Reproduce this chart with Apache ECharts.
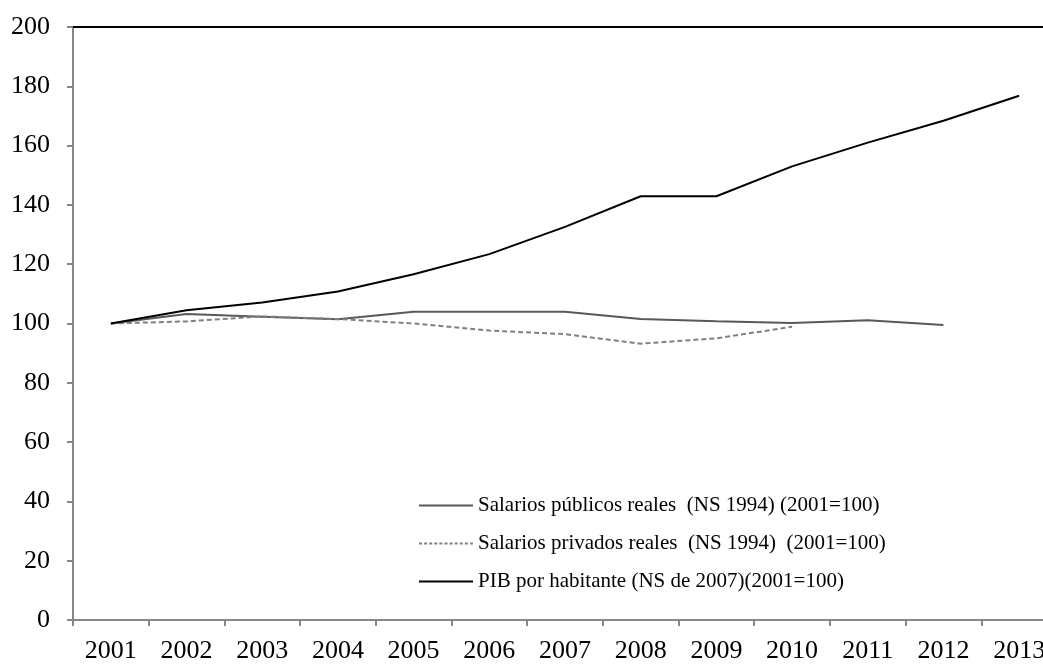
<!DOCTYPE html>
<html>
<head>
<meta charset="utf-8">
<script src="https://cdn.jsdelivr.net/npm/echarts@6/dist/echarts.min.js"></script>
<style>html,body{margin:0;padding:0;background:#fff;overflow:hidden;width:1043px;height:664px}#c{width:1057px;height:664px}</style>
</head>
<body>
<div id="c"></div>
<script>
var years = ['2001','2002','2003','2004','2005','2006','2007','2008','2009','2010','2011','2012','2013'];
var salPublicos = [100, 103.2, 102.3, 101.4, 104, 104, 104, 101.5, 100.8, 100.2, 101.1, 99.5, null];
var salPrivados = [100, 100.7, 102.4, 101.5, 100.0, 97.6, 96.4, 93.2, 95.0, 98.9, null, null, null];
var pib = [100, 104.5, 107.1, 110.8, 116.6, 123.4, 132.6, 142.9, 142.9, 153, 161, 168.4, 176.8];
var names = ['Salarios públicos reales  (NS 1994) (2001=100)', 'Salarios privados reales  (NS 1994)  (2001=100)', 'PIB por habitante (NS de 2007)(2001=100)'];

var FONT = 'Liberation Serif';
var solidIcon = 'path://M0,0L54,0L54,2L0,2Z';
var dashIcon = 'path://';
for (var i = 0; i < 54; i += 5) {
  var e = Math.min(i + 3, 54);
  dashIcon += 'M' + i + ',0L' + e + ',0L' + e + ',2L' + i + ',2Z';
}

var chart = echarts.init(document.getElementById('c'), null, {renderer: 'canvas'});
chart.setOption({
  animation: false,
  backgroundColor: '#fff',
  textStyle: {fontFamily: FONT},
  grid: {left: 73, top: 27, right: 0, bottom: 42, containLabel: false},
  legend: {
    orient: 'vertical', left: 414, top: 490, itemWidth: 54, itemHeight: 2, itemGap: 17,
    symbolKeepAspect: false,
    textStyle: {fontFamily: FONT, fontSize: 21, color: '#000'},
    data: [
      {name: names[0], icon: solidIcon},
      {name: names[1], icon: dashIcon},
      {name: names[2], icon: solidIcon}
    ]
  },
  xAxis: [{
    type: 'category', data: years, boundaryGap: true, position: 'bottom',
    axisLine: {lineStyle: {color: '#868686', width: 2}},
    axisTick: {show: true, length: 6, lineStyle: {color: '#868686', width: 2}},
    axisLabel: {fontFamily: FONT, fontSize: 26, color: '#000', margin: 18, interval: 0}
  }, {
    type: 'category', data: years, boundaryGap: true, position: 'top',
    axisLine: {lineStyle: {color: '#000', width: 2}},
    axisTick: {show: false}, axisLabel: {show: false}
  }],
  yAxis: {
    type: 'value', min: 0, max: 200, interval: 20,
    axisLine: {show: true, lineStyle: {color: '#868686', width: 2}},
    axisTick: {show: true, length: 6, lineStyle: {color: '#868686', width: 2}},
    splitLine: {show: false},
    axisLabel: {fontFamily: FONT, fontSize: 26, color: '#000', margin: 23}
  },
  series: [
    {name: names[0], type: 'line', data: salPublicos, symbol: 'none',
     lineStyle: {color: '#595959', width: 2}, itemStyle: {color: '#595959'}},
    {name: names[1], type: 'line', data: salPrivados, symbol: 'none',
     lineStyle: {color: '#808080', width: 2, type: [5, 3]}, itemStyle: {color: '#808080'}},
    {name: names[2], type: 'line', data: pib, symbol: 'none',
     lineStyle: {color: '#000', width: 2}, itemStyle: {color: '#000'}}
  ]
});
</script>
</body>
</html>
